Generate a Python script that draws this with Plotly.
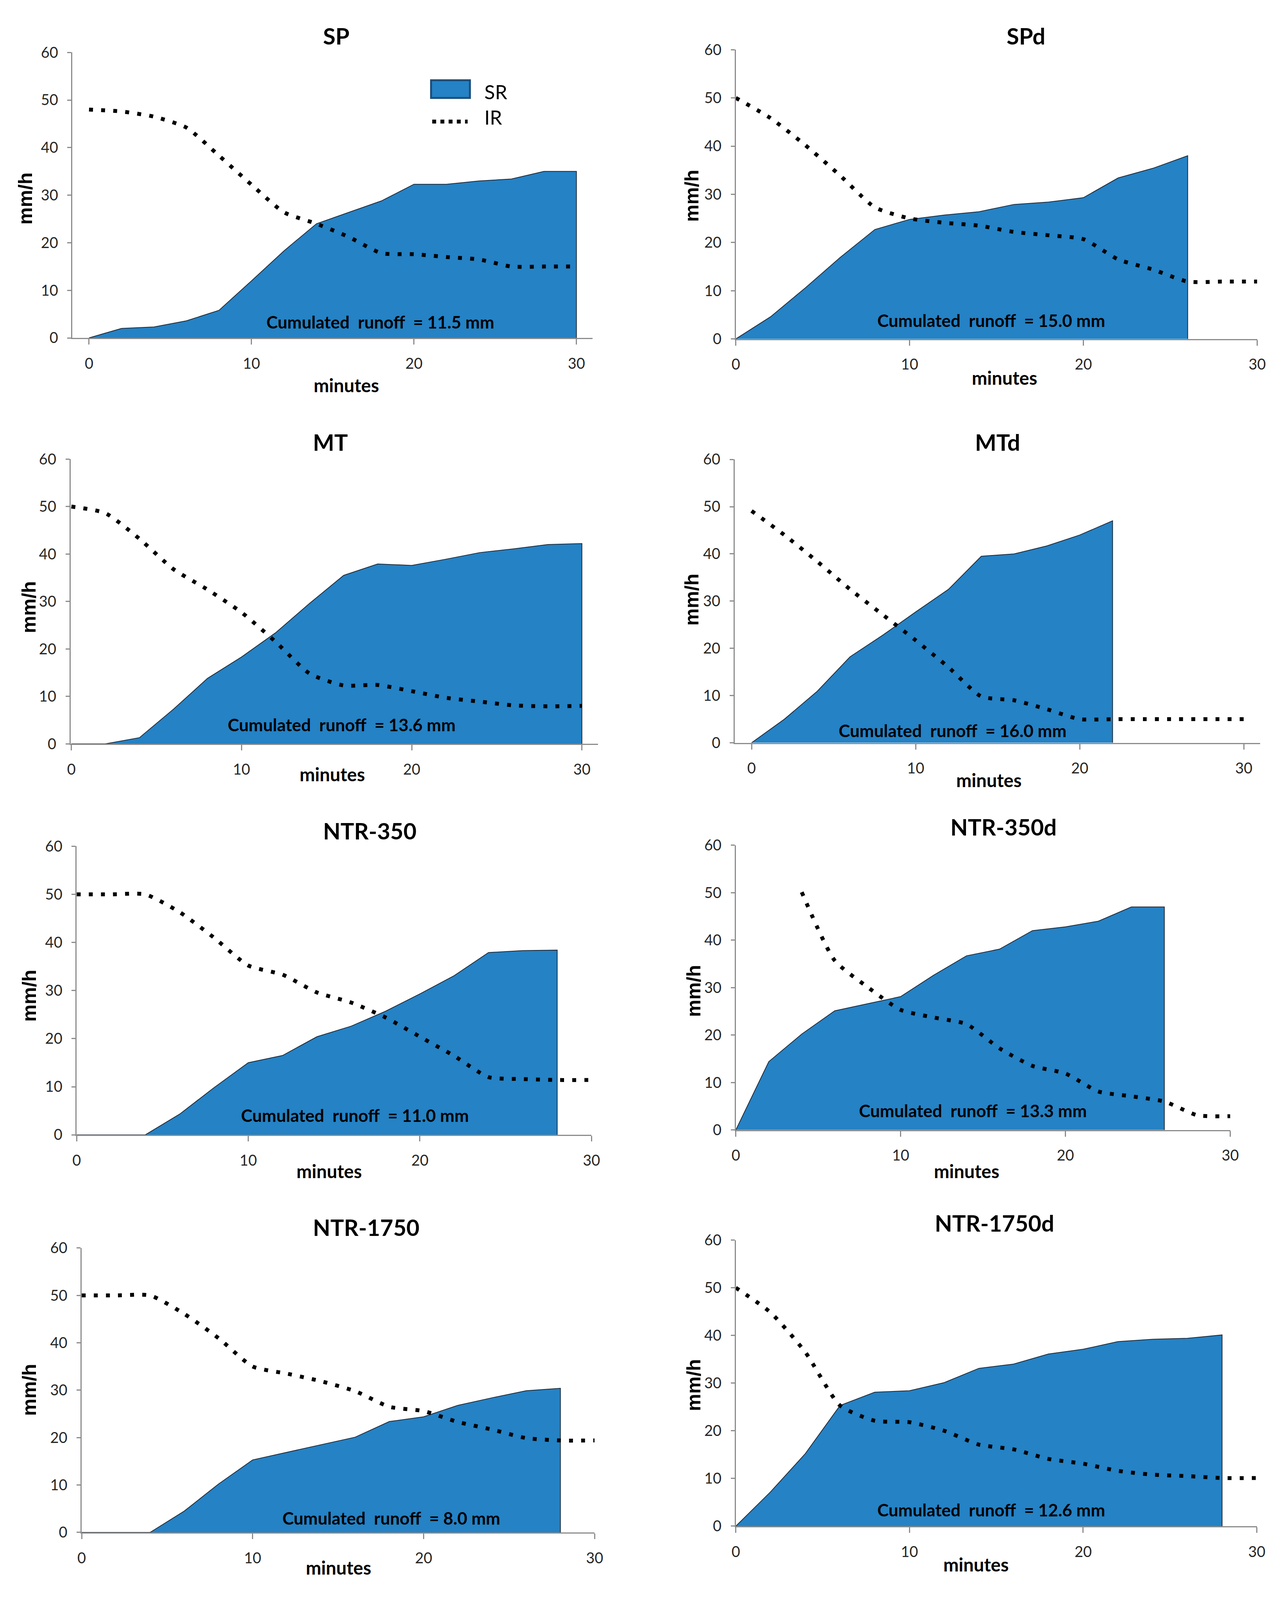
import plotly.graph_objects as go

# time axis (minutes), one reading every 2 minutes
minutes = [0, 2, 4, 6, 8, 10, 12, 14, 16, 18, 20, 22, 24, 26, 28, 30]

# SR = surface runoff, IR = infiltration rate (mm/h)
sp_sr = [0, 2.0, 2.3, 3.6, 5.8, 12.0, 18.3, 24.0, 26.4, 28.8, 32.3, 32.3, 33.0, 33.4, 35.0, 35.0]
sp_ir = [48.0, 47.6, 46.5, 44.2, 38.3, 32.2, 26.4, 24.0, 21.2, 17.8, 17.6, 17.0, 16.5, 15.0, 15.0, 15.0]

spd_sr = [0, 4.6, 10.6, 16.9, 22.7, 24.8, 25.7, 26.4, 27.9, 28.4, 29.3, 33.4, 35.4, 38.0]
spd_ir = [50.0, 45.8, 40.2, 33.9, 27.3, 25.0, 24.1, 23.5, 22.2, 21.5, 20.7, 16.5, 14.4, 11.9, 11.9, 11.9]

mt_sr = [0, 0, 1.3, 7.3, 13.8, 18.3, 23.4, 29.6, 35.5, 37.9, 37.6, 38.9, 40.3, 41.1, 42.0, 42.2]
mt_ir = [50.0, 48.6, 43.2, 36.8, 32.5, 27.7, 21.5, 14.8, 12.3, 12.4, 11.1, 9.7, 8.9, 8.1, 7.9, 8.0]

mtd_sr = [0, 5.0, 10.9, 18.2, 22.8, 27.7, 32.5, 39.5, 40.0, 41.7, 44.0, 47.0]
mtd_ir = [49.1, 44.0, 38.4, 32.5, 27.1, 21.7, 16.0, 9.8, 9.0, 7.1, 5.0, 5.0, 5.0, 5.0, 5.0, 5.0]

ntr350_sr = [0, 0, 0, 4.3, 9.8, 15.0, 16.5, 20.4, 22.6, 25.7, 29.3, 33.1, 37.9, 38.3, 38.4]
ntr350_ir = [50.0, 50.0, 50.0, 46.3, 41.0, 35.2, 33.3, 29.6, 27.5, 24.4, 20.4, 16.4, 12.0, 11.6, 11.4, 11.4]

ntr350d_sr = [0, 14.4, 20.2, 25.1, 26.6, 28.1, 32.6, 36.7, 38.1, 42.0, 42.8, 44.0, 47.0, 47.0]
ntr350d_ir = [50.1, 35.7, 30.1, 25.3, 23.7, 22.3, 17.2, 13.5, 11.9, 8.1, 7.1, 6.0, 3.1, 2.9]  # from minute 4

ntr1750_sr = [0, 0, 0, 4.5, 10.2, 15.3, 16.9, 18.5, 20.1, 23.4, 24.4, 26.8, 28.4, 29.9, 30.4]
ntr1750_ir = [50.0, 50.0, 50.0, 46.1, 41.0, 35.0, 33.5, 31.9, 29.8, 26.5, 25.6, 23.3, 21.7, 19.9, 19.4, 19.4]

ntr1750d_sr = [0, 7.2, 15.2, 25.3, 28.1, 28.4, 30.1, 33.1, 34.0, 36.1, 37.1, 38.7, 39.2, 39.4, 40.1]
ntr1750d_ir = [50.0, 44.8, 36.5, 25.3, 22.1, 21.8, 20.0, 17.1, 16.1, 14.1, 13.1, 11.6, 10.8, 10.5, 10.1, 10.1]

titles = ["SP", "SPd", "MT", "MTd", "NTR-350", "NTR-350d", "NTR-1750", "NTR-1750d"]
cumulated = [11.5, 15.0, 13.6, 16.0, 11.0, 13.3, 8.0, 12.6]

sr_series = [sp_sr, spd_sr, mt_sr, mtd_sr, ntr350_sr, ntr350d_sr, ntr1750_sr, ntr1750d_sr]
ir_series = [sp_ir, spd_ir, mt_ir, mtd_ir, ntr350_ir, ntr350d_ir, ntr1750_ir, ntr1750d_ir]
ir_start = [0, 0, 0, 0, 0, 4, 0, 0]

W, H = 3282, 4538   # reference page size, used to place things as fractions
BLUE = "#2482C5"
AXIS = "#8C8C8C"
CAL = "Lato, Liberation Sans, sans-serif"
ARIAL = "Liberation Sans, Arial, sans-serif"

# page-pixel geometry of each panel (plot area + text spots)
frames = [
    dict(x0=169, x1=1521, top=114, bottom=936, xr=[-1.02, 31.0],
         title=(855, 66), xlab=(881, 1072), ylab=(46, 535), note=(969, 890)),
    dict(x0=1893, x1=3248, top=106, bottom=939, xr=[0, 30],
         title=(2647, 66), xlab=(2591, 1051), ylab=(1779, 527), note=(2557, 885)),
    dict(x0=164, x1=1535, top=1285, bottom=2105, xr=[-0.05, 30.95],
         title=(840, 1236), xlab=(844, 2193), ylab=(56, 1712), note=(868, 2050)),
    dict(x0=1890, x1=3256, top=1286, bottom=2102, xr=[-1.03, 31.0],
         title=(2573, 1236), xlab=(2551, 2209), ylab=(1779, 1690), note=(2456, 2067)),
    dict(x0=180, x1=1518, top=2400, bottom=3231, xr=[0, 30],
         title=(942, 2355), xlab=(836, 3336), ylab=(56, 2831), note=(903, 3175)),
    dict(x0=1893, x1=3178, top=2397, bottom=3217, xr=[0, 30],
         title=(2589, 2344), xlab=(2493, 3336), ylab=(1784, 2817), note=(2509, 3161)),
    dict(x0=193, x1=1526, top=3557, bottom=4376, xr=[0, 30],
         title=(932, 3497), xlab=(860, 4477), ylab=(56, 3966), note=(998, 4334)),
    dict(x0=1893, x1=3247, top=3534, bottom=4358, xr=[0, 30],
         title=(2565, 3484), xlab=(2517, 4468), ylab=(1784, 3952), note=(2557, 4311)),
]


def px(x, y):
    return x / W, 1 - y / H


def label(pos, text, font, **kw):
    x, y = px(*pos)
    d = dict(x=x, y=y, xref="paper", yref="paper", showarrow=False, text=text,
             font=font, xanchor="center", yanchor="middle")
    d.update(kw)
    return d


fig = go.Figure()
annotations = []

for i, fr in enumerate(frames):
    n = "" if i == 0 else str(i + 1)
    xa, ya = "x" + n, "y" + n

    sr = sr_series[i]
    t_sr = minutes[:len(sr)]
    fig.add_trace(go.Scatter(
        x=t_sr + [t_sr[-1]], y=sr + [0], mode="lines", fill="tozeroy",
        fillcolor=BLUE, line=dict(color="#1d2b3a", width=2),
        xaxis=xa, yaxis=ya, showlegend=False))

    ir = ir_series[i]
    k = minutes.index(ir_start[i])
    fig.add_trace(go.Scatter(
        x=minutes[k:k + len(ir)], y=ir, mode="lines",
        line=dict(color="black", width=10, dash="10px,21px", shape="spline", smoothing=0.6),
        xaxis=xa, yaxis=ya, showlegend=False))

    fig.update_layout(**{
        "xaxis" + n: dict(
            domain=[fr["x0"] / W, fr["x1"] / W], range=fr["xr"], anchor=ya,
            tickvals=[0, 10, 20, 30], showgrid=False, zeroline=False,
            showline=True, linecolor=AXIS, linewidth=3,
            ticks="outside", ticklen=14, tickwidth=3, tickcolor=AXIS,
            ticklabelstandoff=16, tickfont=dict(family=CAL, size=38, color="#262626")),
        "yaxis" + n: dict(
            domain=[1 - fr["bottom"] / H, 1 - fr["top"] / H], range=[0, 60], anchor=xa,
            tickvals=[0, 10, 20, 30, 40, 50, 60], showgrid=False, zeroline=False,
            showline=True, linecolor=AXIS, linewidth=3,
            ticks="outside", ticklen=10, tickwidth=3, tickcolor=AXIS,
            ticklabelstandoff=16, tickfont=dict(family=CAL, size=38, color="#262626")),
    })

    annotations.append(label(fr["title"], "<b>%s</b>" % titles[i],
                             dict(family=CAL, size=58, color="black")))
    annotations.append(label(fr["xlab"], "<b>minutes</b>",
                             dict(family=CAL, size=47, color="black")))
    annotations.append(label(fr["ylab"], "<b>mm/h</b>",
                             dict(family=ARIAL, size=50, color="black"), textangle=-90))
    annotations.append(label(fr["note"],
                             "<b>Cumulated\u00a0\u00a0runoff\u00a0\u00a0= %.1f mm</b>" % cumulated[i],
                             dict(family=CAL, size=44, color="black")))

# legend of the first panel, drawn by hand
bx0, by0 = px(1101, 194)
bx1, by1 = px(1202, 245)
lx0, ly0 = px(1104, 313)
lx1, _ = px(1196, 313)
shapes = [
    dict(type="rect", xref="paper", yref="paper", x0=bx0, x1=bx1, y0=by1, y1=by0,
         fillcolor=BLUE, line=dict(color="#1f4e79", width=5)),
    dict(type="line", xref="paper", yref="paper", x0=lx0, x1=lx1, y0=ly0, y1=ly0,
         line=dict(color="black", width=10, dash="10px,11px")),
]
for text, pos in [("SR", (1237, 227)), ("IR", (1237, 300))]:
    annotations.append(label(pos, text, dict(family=CAL, size=50, color="black"),
                             xanchor="left"))

fig.update_layout(
    autosize=True, margin=dict(l=0, r=0, t=0, b=0),
    paper_bgcolor="white", plot_bgcolor="white", showlegend=False,
    annotations=annotations, shapes=shapes,
)

# fill the browser window whatever its exact size
fig.write_html("out.html", default_width="100%", default_height="calc(100vh - 16px)")
